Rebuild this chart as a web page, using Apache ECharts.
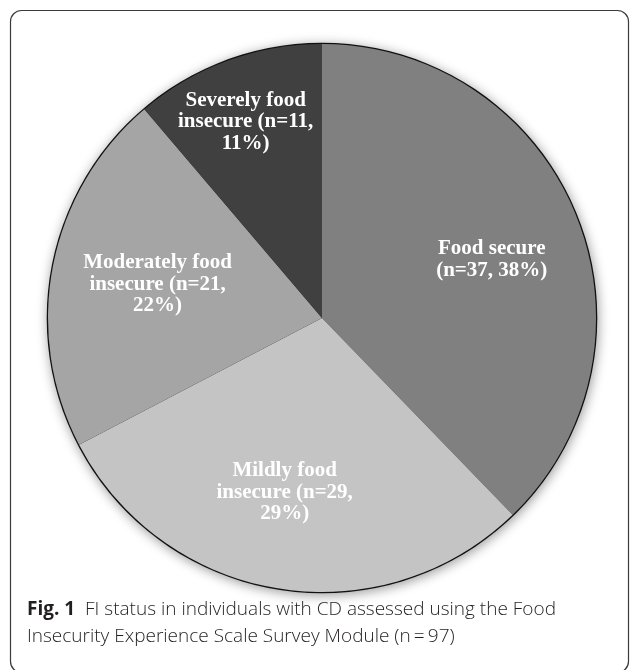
<!DOCTYPE html>
<html>
<head>
<meta charset="utf-8">
<script src="https://cdn.jsdelivr.net/npm/echarts@6/dist/echarts.min.js"></script>
<style>
html,body{margin:0;padding:0;background:#fff;}
#chart{width:630px;height:670px;}
</style>
</head>
<body>
<div id="chart"></div>
<script>
// ---- data ----
const categories = ['Food secure', 'Mildly food insecure', 'Moderately food insecure', 'Severely food insecure'];
const counts = [37, 29, 21, 11];
const percents = [38, 29, 22, 11];
const labelLines = [
  ['Food secure', '(n=37, 38%)'],
  ['Mildly food', 'insecure (n=29,', '29%)'],
  ['Moderately food', 'insecure (n=21,', '22%)'],
  ['Severely food', 'insecure (n=11,', '11%)']
];
const captionBold = 'Fig. 1';
const captionLine1 = 'FI status in individuals with CD assessed using the Food';
const captionLine2 = 'Insecurity Experience Scale Survey Module (n\u2009=\u200997)';

// ---- styles / layout ----
const sliceColors = ['#808080', '#c4c4c4', '#a5a5a5', '#404040'];
const labelShift = [[40, -6], [-15, 36], [-27, -7], [-28, -65]];
const center = [322, 318];
const radius = 274;

const chart = echarts.init(document.getElementById('chart'), null, {renderer: 'canvas'});

const pieData = categories.map((c, i) => ({
  name: c,
  value: counts[i],
  itemStyle: {color: sliceColors[i]}
}));

chart.setOption({
  backgroundColor: '#fff',
  animation: false,
  series: [
    {
      type: 'pie',
      silent: true,
      z: 1,
      center: center,
      radius: radius + 1.3,
      startAngle: 90,
      label: {show: false},
      labelLine: {show: false},
      itemStyle: {color: '#111', shadowBlur: 12, shadowColor: 'rgba(0,0,0,0.4)', shadowOffsetX: 1, shadowOffsetY: 2},
      data: [{value: counts.reduce((a, b) => a + b, 0), name: 'outline'}]
    },
    {
      type: 'pie',
      z: 2,
      center: center,
      radius: radius,
      startAngle: 90,
      clockwise: true,
      data: pieData,
      itemStyle: {borderWidth: 0},
      label: {
        show: true,
        position: 'inside',
        formatter: p => labelLines[p.dataIndex].join('\n'),
        color: '#fff',
        fontFamily: '"Liberation Serif", "Times New Roman", serif',
        fontWeight: 'bold',
        fontSize: 21,
        lineHeight: 21.5,
        align: 'center'
      },
      labelLine: {show: false},
      labelLayout: p => ({dx: labelShift[p.dataIndex][0], dy: labelShift[p.dataIndex][1]})
    }
  ],
  graphic: [
    {
      type: 'rect',
      silent: true,
      shape: {x: 10.5, y: 10.5, width: 618, height: 662, r: 11},
      style: {fill: 'none', stroke: '#3a3a3a', lineWidth: 1.2}
    },
    {
      type: 'text',
      left: 27,
      top: 596,
      style: {
        text: '{b|' + captionBold + '}  ' + captionLine1 + '\n' + captionLine2,
        font: '300 19px "Open Sans", sans-serif',
        fill: '#231f20',
        lineHeight: 27,
        rich: {
          b: {fontWeight: 'bold', fontSize: 19, fontFamily: '"Open Sans", sans-serif', fill: '#231f20', lineHeight: 27}
        }
      }
    }
  ]
});
</script>
</body>
</html>
